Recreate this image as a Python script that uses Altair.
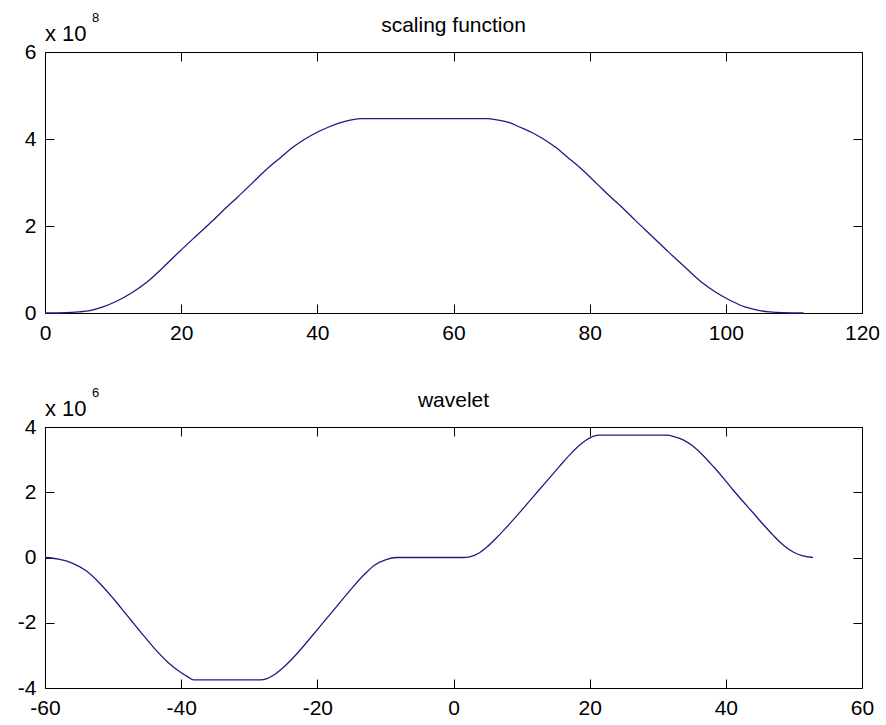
import altair as alt
import pandas as pd

# Scaling function samples (values in units of 1e8)
phi_x = [0, 3, 5, 6.6, 8.5, 10.5, 12.7, 14.9, 17.3, 19.8, 22.2, 24.7, 26.4, 28.2,
         30.4, 32.6, 34.5, 36.5, 38.2, 39.9, 41.6, 43.3, 45, 46.5,
         64.9, 66.4, 68.1, 69.8, 71.5, 73.2, 74.9, 76.9, 78.8, 81, 83.2, 85, 86.7,
         89.2, 91.6, 94.1, 96.5, 98.7, 100.9, 102.8, 104.8, 106.4, 108.4, 111.4]
phi_y = [0, 0.006, 0.025, 0.055, 0.14, 0.27, 0.46, 0.70, 1.04, 1.42, 1.77, 2.13,
         2.39, 2.65, 2.98, 3.31, 3.56, 3.82, 4.0, 4.15, 4.27, 4.37, 4.44, 4.47,
         4.47, 4.44, 4.38, 4.27, 4.15, 4.0, 3.82, 3.56, 3.31, 2.98, 2.65, 2.39, 2.13,
         1.76, 1.40, 1.04, 0.70, 0.46, 0.27, 0.14, 0.06, 0.025, 0.006, 0]

# Wavelet samples (values in units of 1e6)
psi_x = [-60, -58, -56, -54, -52, -50, -48, -46, -44, -42, -40.2, -39, -38.2,
         -28.4, -27.4, -26.4, -25, -23, -21, -19, -17, -15, -13, -11.5, -10, -8.3,
         1.4, 2.5, 3.7, 4.9, 6.3, 7.8, 9.8, 11.7, 13.6, 15.6, 17, 18.3, 19.5, 20.5,
         21.5, 31.3, 32.5, 33.8, 35.2, 36.7, 38.2, 39.7, 41.1, 42.6, 44, 45.5, 47,
         48.5, 49.9, 51.2, 52.8]
psi_y = [0, -0.05, -0.17, -0.40, -0.78, -1.25, -1.76, -2.27, -2.77, -3.2, -3.5,
         -3.66, -3.75,
         -3.75, -3.71, -3.6, -3.37, -2.95, -2.46, -1.96, -1.46, -0.96, -0.5, -0.22,
         -0.07, 0,
         0, 0.03, 0.13, 0.32, 0.6, 0.93, 1.4, 1.86, 2.32, 2.8, 3.13, 3.4, 3.6, 3.71,
         3.75, 3.75, 3.7, 3.6, 3.41, 3.12, 2.78, 2.42, 2.06, 1.7, 1.37, 1.01, 0.67,
         0.37, 0.17, 0.06, 0]

phi_xticks = [0, 20, 40, 60, 80, 100, 120]
phi_yticks = [0, 2, 4, 6]
psi_xticks = [-60, -40, -20, 0, 20, 40, 60]
psi_yticks = [-4, -2, 0, 2, 4]

FONT = "Liberation Sans"
LINE = "#1c1c84"
W, H = 817, 261


def axis(orient, ticks, labels=True):
    return alt.Axis(
        orient=orient, values=ticks, title=None, grid=False, domain=False,
        labels=labels, ticks=True, tickSize=9, offset=-9, tickColor="black",
        tickWidth=1, labelFont=FONT, labelFontSize=21, labelColor="black",
        labelPadding=9, labelOverlap=False, labelFlush=False,
        labelExpr="datum.value + ''",
    )


def label(text, x, y, size, align="left"):
    return alt.Chart(pd.DataFrame({"t": [text]})).mark_text(
        font=FONT, fontSize=size, align=align, baseline="alphabetic", color="black"
    ).encode(x=alt.value(x), y=alt.value(y), text="t:N")


def panel(xs, ys, xdom, xticks, ydom, yticks, title, power):
    df = pd.DataFrame({"x": xs, "y": ys})
    xs_ = alt.Scale(domain=xdom, nice=False, zero=False)
    ys_ = alt.Scale(domain=ydom, nice=False, zero=False)
    curve = alt.Chart(df).mark_line(
        color=LINE, strokeWidth=1.3, interpolate="monotone"
    ).encode(
        x=alt.X("x:Q", scale=xs_, axis=axis("bottom", xticks)),
        y=alt.Y("y:Q", scale=ys_, axis=axis("left", yticks)),
    )
    # invisible copy that carries the mirrored top/right tick marks
    mirror = alt.Chart(df).mark_line(opacity=0).encode(
        x=alt.X("x:Q", scale=xs_, axis=axis("top", xticks, labels=False)),
        y=alt.Y("y:Q", scale=ys_, axis=axis("right", yticks, labels=False)),
    )
    return alt.layer(
        curve, mirror,
        label(title, W / 2, -20, 21, align="center"),
        label("x 10", 0, -11, 22),
        label(power, 47, -30, 13),
    ).resolve_axis(x="independent", y="independent").properties(width=W, height=H)


top = panel(phi_x, phi_y, [0, 120], phi_xticks, [0, 6], phi_yticks,
            "scaling function", "8")
bottom = panel(psi_x, psi_y, [-60, 60], psi_xticks, [-4, 4], psi_yticks,
               "wavelet", "6")

chart = alt.vconcat(top, bottom, spacing=114, bounds="flush").properties(
    padding={"left": 16, "top": 11, "right": 0, "bottom": 0},
    background="white",
).configure_view(stroke="black", strokeWidth=1)

chart.save("out.html", embed_options={"renderer": "svg", "actions": False})
